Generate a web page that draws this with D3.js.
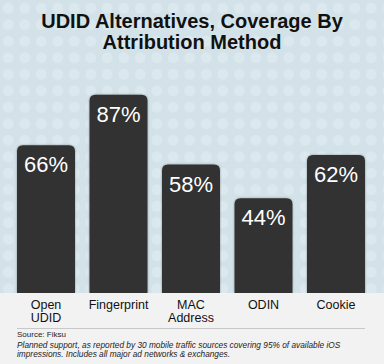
<!DOCTYPE html>
<html><head><meta charset="utf-8">
<script src="https://cdn.jsdelivr.net/npm/d3@7/dist/d3.min.js"></script>
<style>html,body{margin:0;padding:0;background:#f2f2f2;}svg{display:block;}</style>
</head><body>
<script>
const categories = ["Open\nUDID", "Fingerprint", "MAC\nAddress", "ODIN", "Cookie"];
const values = [66, 87, 58, 44, 62];
const valueLabels = ["66%", "87%", "58%", "44%", "62%"];
const titleLines = ["UDID Alternatives, Coverage By", "Attribution Method"];
const sourceText = "Source: Fiksu";
const noteLines = ["Planned support, as reported by 30 mobile traffic sources covering 95% of available iOS",
                   "impressions. Includes all major ad networks & exchanges."];

const W = 384, H = 364, base = 293;
const svg = d3.select("body").append("svg").attr("width", W).attr("height", H);
const defs = svg.append("defs");
const pat = defs.append("pattern").attr("id", "dots").attr("patternUnits", "userSpaceOnUse")
  .attr("width", 16.5).attr("height", 16.5);
pat.append("rect").attr("width", 16.5).attr("height", 16.5).attr("fill", "#d3e2e9");
pat.append("circle").attr("cx", 8.25).attr("cy", 8.25).attr("r", 5.5).attr("fill", "#dbe8ee");
const f = defs.append("filter").attr("id", "sh").attr("x", "-20%").attr("y", "-20%").attr("width", "140%").attr("height", "140%");
f.append("feDropShadow").attr("dx", 0).attr("dy", 0).attr("stdDeviation", 1.2).attr("flood-color", "#000").attr("flood-opacity", 0.35);

svg.append("rect").attr("width", W).attr("height", base).attr("fill", "url(#dots)");
svg.append("rect").attr("y", base).attr("width", W).attr("height", H - base).attr("fill", "#f2f2f2");

const x = d3.scaleBand().domain(categories).range([17, 365]).paddingInner(0.2).paddingOuter(0);
const y = d3.scaleLinear().domain([4.7, 100]).range([base, 63.3]);

const font = "'Liberation Sans', Arial, Helvetica, sans-serif";

const tg = svg.append("g").attr("font-family", font);
titleLines.forEach((t, i) => tg.append("text").attr("text-anchor", "middle")
  .attr("font-weight", "bold").attr("font-size", 20).attr("fill", "#111")
  .attr("x", W / 2).attr("y", 27.5 + i * 21).text(t));

const r = 6;
svg.append("g").selectAll("path").data(values).join("path")
  .attr("filter", "url(#sh)")
  .attr("fill", "#333333")
  .attr("d", (d, i) => {
    const x0 = x(categories[i]), w = x.bandwidth(), t = y(d);
    return `M${x0},${base} V${t + r} Q${x0},${t} ${x0 + r},${t} H${x0 + w - r} Q${x0 + w},${t} ${x0 + w},${t + r} V${base} Z`;
  });
svg.append("rect").attr("y", base).attr("width", W).attr("height", 6).attr("fill", "#f2f2f2");

svg.append("g").selectAll("text").data(values).join("text")
  .attr("x", (d, i) => x(categories[i]) + x.bandwidth() / 2)
  .attr("y", d => y(d) + 27)
  .attr("text-anchor", "middle").attr("font-family", font).attr("font-size", 22)
  .attr("fill", "#ffffff").text((d, i) => valueLabels[i]);

const cg = svg.append("g").attr("font-family", font);
categories.forEach(c => {
  c.split("\n").forEach((l, j) => cg.append("text").attr("text-anchor", "middle")
    .attr("font-size", 12.5).attr("fill", "#111")
    .attr("x", x(c) + x.bandwidth() / 2).attr("y", 308.5 + j * 13).text(l));
});

svg.append("line").attr("x1", 17).attr("x2", 365).attr("y1", 328.5).attr("y2", 328.5)
  .attr("stroke", "#c8c8c8").attr("stroke-width", 1);
svg.append("text").attr("x", 17).attr("y", 336.5).attr("font-family", font).attr("font-size", 8)
  .attr("fill", "#222").text(sourceText);
const ng = svg.append("g").attr("font-family", font);
noteLines.forEach((l, i) => ng.append("text").attr("font-size", 8.3).attr("font-style", "italic").attr("fill", "#222")
  .attr("x", 17).attr("y", 347.5 + i * 9.5).text(l));
</script>
</body></html>
